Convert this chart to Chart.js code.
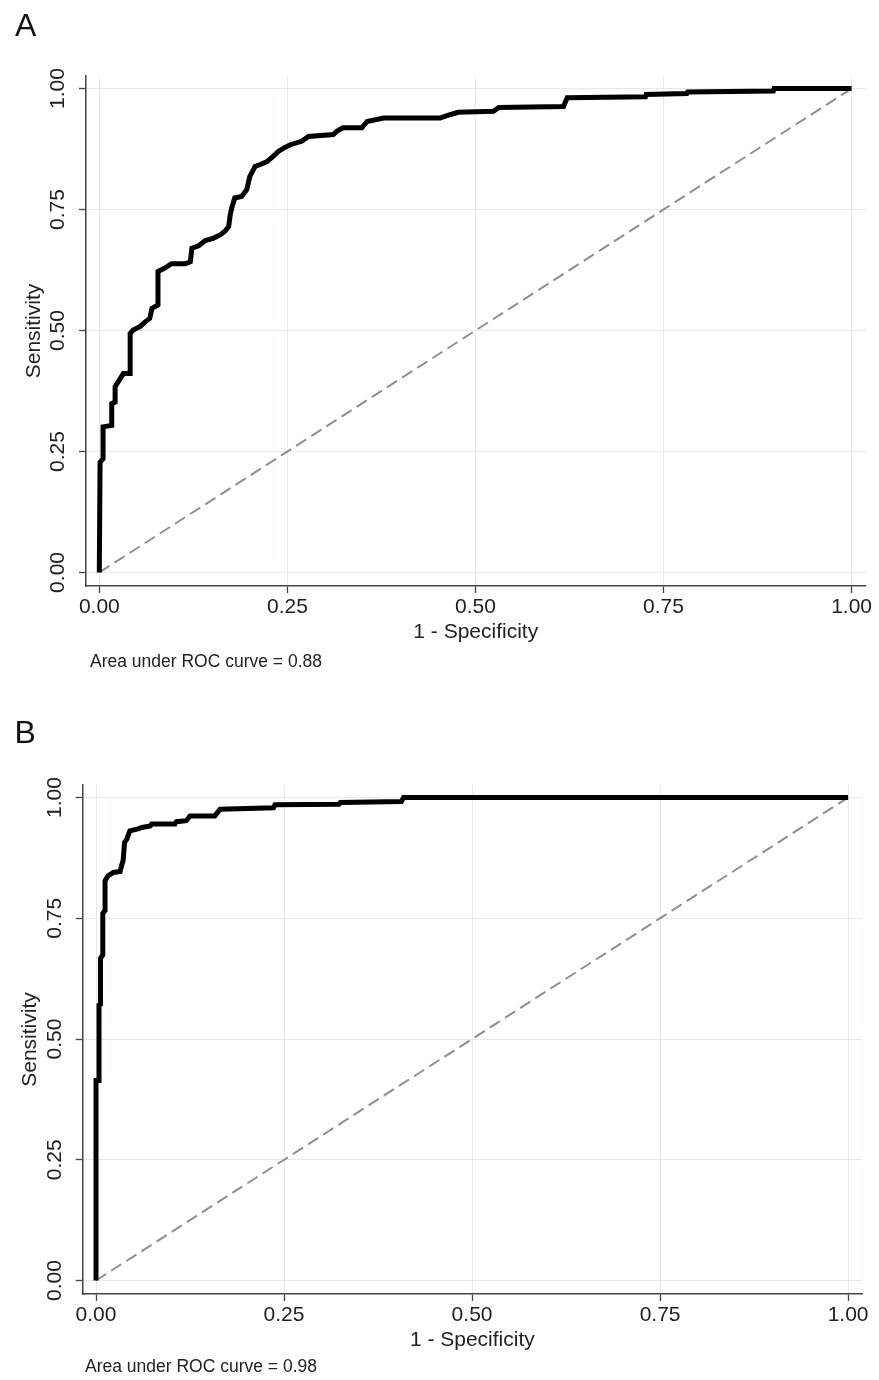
<!DOCTYPE html>
<html>
<head>
<meta charset="utf-8">
<script src="https://cdn.jsdelivr.net/npm/chart.js@4.4.0/dist/chart.umd.min.js"></script>
<style>
html,body{margin:0;padding:0;background:#fff;}
body{width:879px;height:1380px;position:relative;overflow:hidden;font-family:"Liberation Sans",Arial,sans-serif;}
.panel{position:absolute;left:0;width:879px;height:690px;}
.panel canvas{position:absolute;left:0;top:0;}
.letter{position:absolute;font-size:32px;line-height:32px;color:#111;white-space:nowrap;}
.note{position:absolute;font-size:17.5px;line-height:17.5px;color:#222;white-space:nowrap;}
</style>
</head>
<body>
<div class="panel" style="top:0px"><canvas id="chartA" width="879" height="690"></canvas></div>
<div class="panel" style="top:690px"><canvas id="chartB" width="879" height="690"></canvas></div>
<div class="letter" style="left:15px;top:9px">A</div>
<div class="letter" style="left:14.5px;top:716px">B</div>
<div class="note" style="left:90px;top:653px">Area under ROC curve = 0.88</div>
<div class="note" style="left:85px;top:1358px">Area under ROC curve = 0.98</div>
<script>
// ---- data ----
const tickValues = [0, 0.25, 0.50, 0.75, 1.00];
const refX = [0, 1];
const refY = [0, 1];

// Panel A: 1 - specificity (x) and sensitivity (y)
const rocA_fpr = [0, 0.001, 0.005, 0.005, 0.0165, 0.0165, 0.021, 0.021, 0.028, 0.032, 0.041, 0.041, 0.045, 0.054, 0.061, 0.067, 0.070, 0.078, 0.078, 0.078,
  0.087, 0.096, 0.114, 0.121, 0.123, 0.132, 0.141, 0.152, 0.161, 0.167, 0.172, 0.174, 0.176, 0.180, 0.189, 0.196, 0.200, 0.207, 0.214, 0.223,
  0.231, 0.238, 0.245, 0.254, 0.269, 0.278, 0.311, 0.316, 0.324, 0.349, 0.356, 0.378, 0.453, 0.460, 0.477, 0.524, 0.531, 0.617, 0.622, 0.726,
  0.727, 0.781, 0.782, 0.896, 0.897, 1.0];
const rocA_tpr = [0, 0.228, 0.235, 0.301, 0.304, 0.349, 0.352, 0.384, 0.401, 0.411, 0.411, 0.494, 0.501, 0.508, 0.518, 0.525, 0.546, 0.553, 0.563, 0.622,
  0.629, 0.638, 0.638, 0.642, 0.670, 0.675, 0.686, 0.691, 0.698, 0.705, 0.715, 0.739, 0.753, 0.774, 0.777, 0.791, 0.818, 0.839, 0.843, 0.849,
  0.860, 0.870, 0.877, 0.884, 0.891, 0.901, 0.905, 0.912, 0.919, 0.919, 0.932, 0.939, 0.939, 0.943, 0.951, 0.953, 0.961, 0.963, 0.981, 0.983,
  0.988, 0.990, 0.993, 0.995, 1.0, 1.0];

// Panel B
const rocB_fpr = [0, 0, 0.004, 0.004, 0.006, 0.006, 0.009, 0.009, 0.012, 0.012, 0.016, 0.023, 0.032, 0.034, 0.036, 0.038, 0.041, 0.045, 0.056, 0.061,
  0.072, 0.074, 0.105, 0.107, 0.120, 0.125, 0.158, 0.165, 0.236, 0.238, 0.323, 0.325, 0.406, 0.409, 1.0];
const rocB_tpr = [0, 0.414, 0.414, 0.570, 0.572, 0.667, 0.674, 0.760, 0.766, 0.828, 0.838, 0.845, 0.847, 0.859, 0.869, 0.907, 0.914, 0.931, 0.935, 0.938,
  0.941, 0.945, 0.945, 0.950, 0.952, 0.962, 0.962, 0.976, 0.979, 0.985, 0.986, 0.990, 0.992, 1.0, 1.0];

// ---- drawing ----
const FAMILY = '"Liberation Sans", Arial, sans-serif';
const AXIS_COLOR = '#444';
const GRID_COLOR = '#e3ebeb';
const TEXT_COLOR = '#222';

function toPoints(xs, ys) { return xs.map((x, i) => ({ x: x, y: ys[i] })); }

function makeROC(id, fpr, tpr, lay) {
  return new Chart(document.getElementById(id), {
    type: 'scatter',
    data: {
      datasets: [
        {
          data: toPoints(fpr, tpr), showLine: true, borderColor: '#000', backgroundColor: '#000',
          borderWidth: 5, pointRadius: 0, borderJoinStyle: 'miter', borderCapStyle: 'butt', order: 1
        },
        {
          data: toPoints(refX, refY), showLine: true, borderColor: '#8f8f8f', backgroundColor: '#8f8f8f',
          borderWidth: 2, borderDash: [12, 6], pointRadius: 0, order: 2
        }
      ]
    },
    options: {
      responsive: false, animation: false, devicePixelRatio: 1,
      layout: { padding: { left: 0, top: lay.top, right: lay.right, bottom: lay.bottom } },
      plugins: { legend: { display: false }, tooltip: { enabled: false }, title: { display: false } },
      scales: {
        x: {
          type: 'linear', min: -0.0177, max: 1.0185,
          afterBuildTicks: s => { s.ticks = tickValues.map(v => ({ value: v })); },
          afterFit: s => { s.height = 59.3; },
          ticks: { callback: v => Number(v).toFixed(2), font: { size: 21, family: FAMILY }, color: TEXT_COLOR, padding: 2, maxRotation: 0, minRotation: 0, autoSkip: false },
          grid: { color: GRID_COLOR, lineWidth: 1, tickLength: 7, tickColor: AXIS_COLOR, tickWidth: 1.3 },
          border: { color: AXIS_COLOR, width: 1.5 },
          title: { display: true, text: '1 - Specificity', font: { size: 21, family: FAMILY }, color: TEXT_COLOR, padding: 0 }
        },
        y: {
          type: 'linear', min: -0.028, max: 1.026,
          afterBuildTicks: s => { s.ticks = tickValues.map(v => ({ value: v })); },
          afterFit: s => { s.width = lay.axisLeft; },
          ticks: { callback: v => Number(v).toFixed(2), font: { size: 21, family: FAMILY }, color: TEXT_COLOR, padding: 0.5, minRotation: 90, maxRotation: 90, crossAlign: 'center', autoSkip: false },
          grid: { color: GRID_COLOR, lineWidth: 1, tickLength: 7, tickColor: AXIS_COLOR, tickWidth: 1.3 },
          border: { color: AXIS_COLOR, width: 1.5 },
          title: { display: true, text: 'Sensitivity', font: { size: 21, family: FAMILY }, color: TEXT_COLOR, padding: { top: lay.titlePad, bottom: 0 } }
        }
      }
    }
  });
}

makeROC('chartA', rocA_fpr, rocA_tpr, { top: 76, right: 13.5, bottom: 44.7, axisLeft: 86, titlePad: 21.8 });
makeROC('chartB', rocB_fpr, rocB_tpr, { top: 95, right: 17, bottom: 26.7, axisLeft: 82.7, titlePad: 18 });
</script>
</body>
</html>
